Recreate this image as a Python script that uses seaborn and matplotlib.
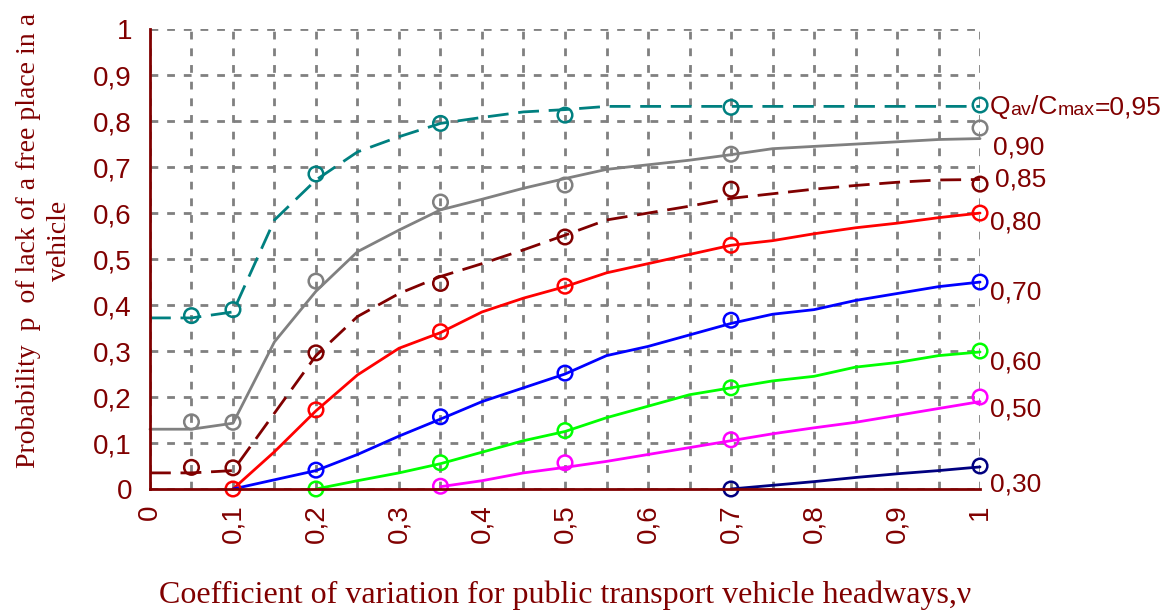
import numpy as np
import pandas as pd
import matplotlib
matplotlib.use("Agg")
import matplotlib.pyplot as plt
import seaborn as sns

# model curves, sampled every 0.05 of the coefficient of variation
v_line = [0.0, 0.05, 0.1, 0.15, 0.2, 0.25, 0.3, 0.35, 0.4, 0.45, 0.5,
          0.55, 0.6, 0.65, 0.7, 0.75, 0.8, 0.85, 0.9, 0.95, 1.0]
p95_line = [0.372, 0.372, 0.385, 0.585, 0.672, 0.733, 0.766, 0.795, 0.808, 0.82, 0.825,
            0.832, 0.832, 0.832, 0.832, 0.832, 0.832, 0.832, 0.832, 0.832, 0.832]
p90_line = [0.13, 0.13, 0.143, 0.32, 0.43, 0.516, 0.563, 0.607, 0.63, 0.654, 0.675,
            0.695, 0.705, 0.715, 0.727, 0.74, 0.745, 0.75, 0.755, 0.76, 0.762]
p85_line = [0.035, 0.035, 0.04, 0.165, 0.29, 0.375, 0.425, 0.462, 0.49, 0.52, 0.552,
            0.585, 0.60, 0.615, 0.632, 0.642, 0.652, 0.66, 0.667, 0.672, 0.673]
p80_line = [None, None, 0.0, 0.081, 0.17, 0.248, 0.306, 0.34, 0.385, 0.415, 0.44,
            0.47, 0.49, 0.51, 0.53, 0.54, 0.555, 0.568, 0.578, 0.59, 0.60]
p70_line = [None, None, 0.0, 0.02, 0.04, 0.075, 0.115, 0.152, 0.19, 0.22, 0.25,
            0.29, 0.31, 0.335, 0.36, 0.38, 0.39, 0.41, 0.425, 0.44, 0.45]
p60_line = [None, None, None, None, 0.0, 0.018, 0.035, 0.055, 0.08, 0.105, 0.125,
            0.155, 0.18, 0.205, 0.22, 0.235, 0.245, 0.265, 0.275, 0.29, 0.298]
p50_line = [None, None, None, None, None, None, None, 0.005, 0.018, 0.035, 0.047,
            0.06, 0.075, 0.09, 0.105, 0.12, 0.133, 0.145, 0.16, 0.175, 0.19]
p30_line = [None, None, None, None, None, None, None, None, None, None, None,
            None, None, None, 0.0, 0.008, 0.016, 0.025, 0.033, 0.04, 0.048]

# simulated points (circles)
v_pts = [0.05, 0.1, 0.2, 0.35, 0.5, 0.7, 1.0]
p95_pts = [0.377, 0.39, 0.685, 0.795, 0.813, 0.83, 0.835]
p90_pts = [0.146, 0.145, 0.452, 0.624, 0.661, 0.728, 0.785]
p85_pts = [0.047, 0.046, 0.296, 0.447, 0.548, 0.652, 0.663]
p80_pts = [None, 0.0, 0.172, 0.342, 0.441, 0.53, 0.60]
p70_pts = [None, None, 0.041, 0.157, 0.252, 0.367, 0.45]
p60_pts = [None, None, 0.0, 0.057, 0.127, 0.22, 0.30]
p50_pts = [None, None, None, 0.006, 0.057, 0.107, 0.20]
p30_pts = [None, None, None, None, None, 0.0, 0.05]

ratios = ["0,95", "0,90", "0,85", "0,80", "0,70", "0,60", "0,50", "0,30"]
colors = ["#008080", "#808080", "#800000", "#FF0000", "#0000FF", "#00FF00", "#FF00FF", "#000080"]
dashed = [True, False, True, False, False, False, False, False]
lines = [p95_line, p90_line, p85_line, p80_line, p70_line, p60_line, p50_line, p30_line]
points = [p95_pts, p90_pts, p85_pts, p80_pts, p70_pts, p60_pts, p50_pts, p30_pts]

# where the ratio labels sit at the right end (y in data units, x offset)
label_y = [0.83, 0.742, 0.672, 0.58, 0.428, 0.276, 0.172, 0.01]
label_x = [1.012, 1.016, 1.018, 1.012, 1.012, 1.012, 1.012, 1.012]

DARK = "#800000"

sns.set_style("white")
plt.rcParams["font.family"] = ["Liberation Sans", "DejaVu Sans"]

fig = plt.figure(figsize=(11.67, 6.12), dpi=100)
ax = fig.add_axes([0.1285, 0.201, 0.7113, 0.7514])

for ratio, col, dash, ln, pt in zip(ratios, colors, dashed, lines, points):
    df_l = pd.DataFrame({"v": v_line, "p": ln}).dropna()
    df_p = pd.DataFrame({"v": v_pts, "p": pt}).dropna()
    ls = (0, (7.5, 3.5)) if dash else "-"
    sns.lineplot(data=df_l, x="v", y="p", color=col, linewidth=2, linestyle=ls,
                 ax=ax, clip_on=False, zorder=3)
    ax.scatter(df_p["v"], df_p["p"], s=110, facecolors="none", edgecolors=col,
               linewidths=1.8, clip_on=False, zorder=4)

ax.set_xlim(0, 1)
ax.set_ylim(0, 1)

ax.set_xticks(np.arange(0, 1.01, 0.1))
ax.set_xticks(np.arange(0.05, 1.0, 0.1), minor=True)
ax.set_yticks(np.arange(0, 1.01, 0.1))

def comma(x):
    s = f"{x:.1f}".replace(".", ",")
    return s.replace(",0", "") if s.endswith(",0") else s

ax.set_xticklabels([comma(x) for x in np.arange(0, 1.01, 0.1)], rotation=90, va="top")
ax.set_yticklabels([comma(y) for y in np.arange(0, 1.01, 0.1)])

ax.tick_params(axis="x", which="both", direction="inout", length=12, width=2,
               color=DARK, labelcolor=DARK, labelsize=20, pad=5)
ax.tick_params(axis="y", which="major", direction="out", length=7, width=2,
               color=DARK, labelcolor=DARK, labelsize=20, pad=6)

for side in ["top", "right"]:
    ax.spines[side].set_visible(False)
for side in ["left", "bottom"]:
    ax.spines[side].set_color(DARK)
    ax.spines[side].set_linewidth(2)
    ax.spines[side].set_zorder(5)

ax.grid(True, which="both", axis="x", color="#808080", linestyle=(0, (2.8, 3.2)), linewidth=2)
ax.grid(True, which="major", axis="y", color="#808080", linestyle=(0, (2.8, 3.2)), linewidth=2)
ax.set_axisbelow(True)

ax.set_xlabel("Coefficient of variation for public transport vehicle headways,\u03bd",
              family=["Liberation Serif", "DejaVu Serif"], fontsize=23, color=DARK, labelpad=27)
ax.set_ylabel("Probability  p  of lack of a free place in a\nvehicle",
              family=["Liberation Serif", "DejaVu Serif"], fontsize=20, color=DARK,
              linespacing=1.3)
ax.yaxis.set_label_coords(-0.094, 0.54)

# right-hand labels
for ratio, ly, lx in zip(ratios, label_y, label_x):
    if ratio == "0,95":
        t = ax.text(lx, ly, "Q", fontsize=19, color=DARK, va="center", ha="left", clip_on=False)
        prev = t
        for piece, fs in [("av", 14), ("/C", 19), ("max", 14), ("=" + ratio, 19)]:
            prev = ax.annotate(piece, xy=(1, 0), xycoords=prev, fontsize=fs, color=DARK,
                               va="bottom", ha="left", annotation_clip=False)
    else:
        ax.text(lx, ly, ratio, fontsize=19, color=DARK, va="center", ha="left", clip_on=False)

fig.savefig("out.png", dpi=100)
